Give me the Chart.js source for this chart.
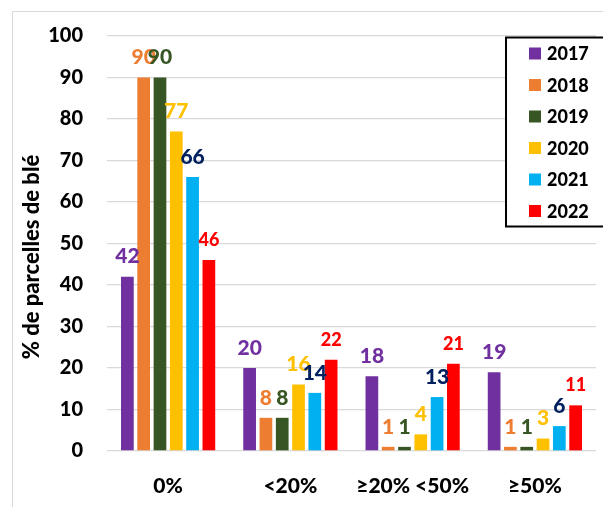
<!DOCTYPE html>
<html>
<head>
<meta charset="utf-8">
<script src="https://cdn.jsdelivr.net/npm/chart.js@4/dist/chart.umd.min.js"></script>
<style>
  html, body { margin: 0; padding: 0; background: #ffffff; }
  #wrap { position: relative; width: 603px; height: 507px; }
</style>
</head>
<body>
<div id="wrap"><canvas id="c" width="603" height="507"></canvas></div>
<script>
// Share of wheat plots per infestation class, by year
const categories = ['0%', '<20%', '≥20% <50%', '≥50%'];
const years = ['2017', '2018', '2019', '2020', '2021', '2022'];
const v2017 = [42, 20, 18, 19];
const v2018 = [90, 8, 1, 1];
const v2019 = [90, 8, 1, 1];
const v2020 = [77, 16, 4, 3];
const v2021 = [66, 14, 13, 6];
const v2022 = [46, 22, 21, 11];
const yTicks = [0, 10, 20, 30, 40, 50, 60, 70, 80, 90, 100];

const seriesValues = [v2017, v2018, v2019, v2020, v2021, v2022];
const barColors = ['#7030A0', '#ED7D31', '#375623', '#FFC000', '#00B0F0', '#FF0000'];
const labelColors = ['#7030A0', '#ED7D31', '#375623', '#FFC000', '#002060', '#FF0000'];
const FONT = 'Lato, "Open Sans", sans-serif';
const WEIGHT = '900';

// Outer light frame of the chart box
const framePlugin = {
  id: 'frame',
  beforeDraw(chart) {
    const ctx = chart.ctx;
    ctx.save();
    ctx.strokeStyle = '#d9d9d9';
    ctx.lineWidth = 1;
    ctx.beginPath();
    ctx.moveTo(12.5, 507);
    ctx.lineTo(12.5, 11.5);
    ctx.lineTo(603, 11.5);
    ctx.stroke();
    ctx.restore();
  }
};

// Value written above each bar
const valueLabels = {
  id: 'valueLabels',
  afterDatasetsDraw(chart) {
    const ctx = chart.ctx;
    ctx.save();
    ctx.textAlign = 'center';
    ctx.textBaseline = 'middle';
    chart.data.datasets.forEach((ds, i) => {
      const meta = chart.getDatasetMeta(i);
      const size = i === 5 ? 18 : 21;
      ctx.font = WEIGHT + ' ' + size + 'px ' + FONT;
      ctx.fillStyle = labelColors[i];
      meta.data.forEach((bar, j) => {
        ctx.fillText(String(ds.data[j]), bar.x, bar.y - 20);
      });
    });
    ctx.restore();
  }
};

// Vertical axis title
const yTitle = {
  id: 'yTitle',
  afterDraw(chart) {
    const ctx = chart.ctx;
    ctx.save();
    ctx.translate(32, 257);
    ctx.rotate(-Math.PI / 2);
    ctx.font = WEIGHT + ' 22px ' + FONT;
    ctx.fillStyle = '#000000';
    ctx.textAlign = 'center';
    ctx.textBaseline = 'middle';
    ctx.fillText('% de parcelles de blé', 0, 0);
    ctx.restore();
  }
};

// Boxed legend in the upper right corner
const boxLegend = {
  id: 'boxLegend',
  afterDraw(chart) {
    const ctx = chart.ctx;
    const x0 = 506, y0 = 37.5, w = 110, h = 189;
    ctx.save();
    ctx.fillStyle = '#ffffff';
    ctx.fillRect(x0, y0, w, h);
    ctx.strokeStyle = '#000000';
    ctx.lineWidth = 2;
    ctx.strokeRect(x0, y0, w, h);
    ctx.font = WEIGHT + ' 18px ' + FONT;
    ctx.textBaseline = 'middle';
    ctx.textAlign = 'left';
    chart.data.datasets.forEach((ds, i) => {
      const cy = 53.5 + i * 31.5;
      ctx.fillStyle = ds.backgroundColor;
      ctx.fillRect(529, cy - 6, 12, 12);
      ctx.fillStyle = '#000000';
      ctx.fillText(ds.label, 547, cy + 1);
    });
    ctx.restore();
  }
};

new Chart(document.getElementById('c'), {
  type: 'bar',
  data: {
    labels: categories,
    datasets: years.map((y, i) => ({
      label: y,
      data: seriesValues[i],
      backgroundColor: barColors[i],
      borderWidth: 0,
      categoryPercentage: 0.8,
      barPercentage: 0.78
    }))
  },
  options: {
    responsive: false,
    animation: false,
    layout: { padding: { left: 13, top: 35, right: 7, bottom: 0 } },
    plugins: {
      legend: { display: false },
      tooltip: { enabled: false }
    },
    scales: {
      x: {
        grid: { display: false, drawTicks: false },
        border: { display: false },
        ticks: {
          color: '#000000',
          font: { family: FONT, size: 21, weight: WEIGHT },
          padding: 23,
          maxRotation: 0,
          autoSkip: false
        },
        afterFit(scale) { scale.height = 56; }
      },
      y: {
        min: 0,
        max: 100,
        grid: { color: '#d9d9d9', lineWidth: 1.3, drawTicks: false },
        border: { display: false },
        afterBuildTicks(scale) { scale.ticks = yTicks.map(v => ({ value: v })); },
        ticks: {
          color: '#000000',
          font: { family: FONT, size: 20, weight: WEIGHT },
          padding: 24
        },
        afterFit(scale) { scale.width = 94; }
      }
    }
  },
  plugins: [framePlugin, valueLabels, yTitle, boxLegend]
});
</script>
</body>
</html>
